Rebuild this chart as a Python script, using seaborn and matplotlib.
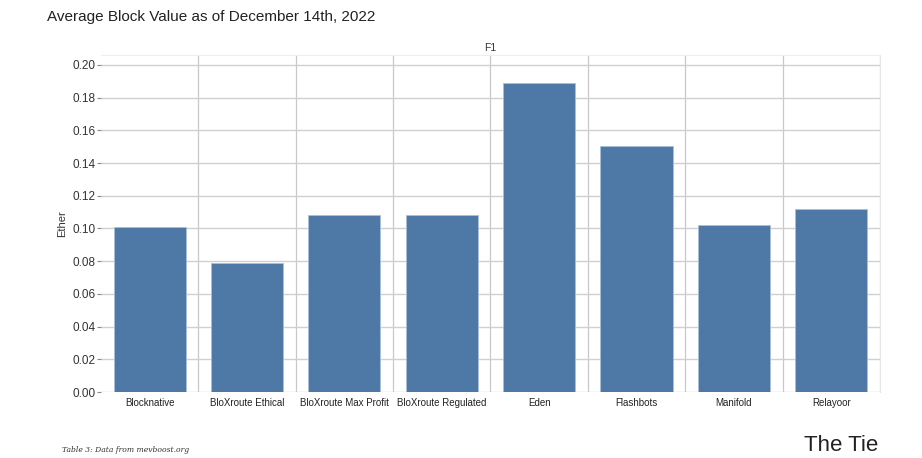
import matplotlib
matplotlib.use("Agg")
import matplotlib.pyplot as plt
import seaborn as sns
import pandas as pd
import numpy as np

# values
relays = ["Blocknative", "BloXroute Ethical", "BloXroute Max Profit", "BloXroute Regulated",
          "Eden", "Flashbots", "Manifold", "Relayoor"]
avg_value = [0.101, 0.079, 0.108, 0.108, 0.189, 0.1505, 0.102, 0.112]
yticks = [0.00, 0.02, 0.04, 0.06, 0.08, 0.10, 0.12, 0.14, 0.16, 0.18, 0.20]

df = pd.DataFrame({"relay": relays, "ether": avg_value})

sns.set_style("white")
plt.rcParams["font.family"] = ["Liberation Sans", "DejaVu Sans"]

fig = plt.figure(figsize=(9.22, 4.58), dpi=100)
ax = fig.add_axes([0.1095, 0.1441, 0.8449, 0.7359])

sns.barplot(data=df, x="relay", y="ether", color="#4e79a7", saturation=1, width=0.74,
            edgecolor="#a9c0d8", linewidth=0.6, ax=ax, zorder=3)

ax.set_ylim(0, 0.2061)
ax.set_xlim(-0.5, len(relays) - 0.5)
ax.set_yticks(yticks)
ax.set_yticklabels([f"{t:.2f}" for t in yticks], fontsize=8.5, color="#333333")
ax.tick_params(axis="y", left=True, length=3, width=0.8, color="#888888", pad=1)
ax.tick_params(axis="x", length=0, labelsize=7, labelcolor="#222222", pad=4)

# horizontal grid on the y ticks, vertical lines between categories
ax.set_xticks(np.arange(len(relays)) + 0.5, minor=True)
ax.grid(axis="y", which="major", color="#d0d0d0", lw=1, zorder=0)
ax.grid(axis="x", which="minor", color="#c8c8c8", lw=0.9, zorder=0)
ax.grid(axis="x", which="major", visible=False)
for s in ["left", "bottom"]:
    ax.spines[s].set_visible(False)
ax.spines["top"].set_color("#eeeeee")
ax.spines["right"].set_color("#e6e6e6")

ax.set_xlabel("")
ax.set_ylabel("Ether", fontsize=8, color="#333333", labelpad=4)
ax.set_title("F1", fontsize=7.5, color="#333333", pad=3)

fig.text(0.051, 0.962, "Average Block Value as of December 14th, 2022", fontsize=11,
         color="#222222", va="center")
fig.text(0.067, 0.017, "Table 3: Data from mevboost.org", fontsize=5.5, style="italic",
         family="DejaVu Serif", color="#333333", va="center")
fig.text(0.872, 0.004, "The Tie", fontsize=16, color="#222222", va="bottom")

fig.savefig("out.png", dpi=100)
